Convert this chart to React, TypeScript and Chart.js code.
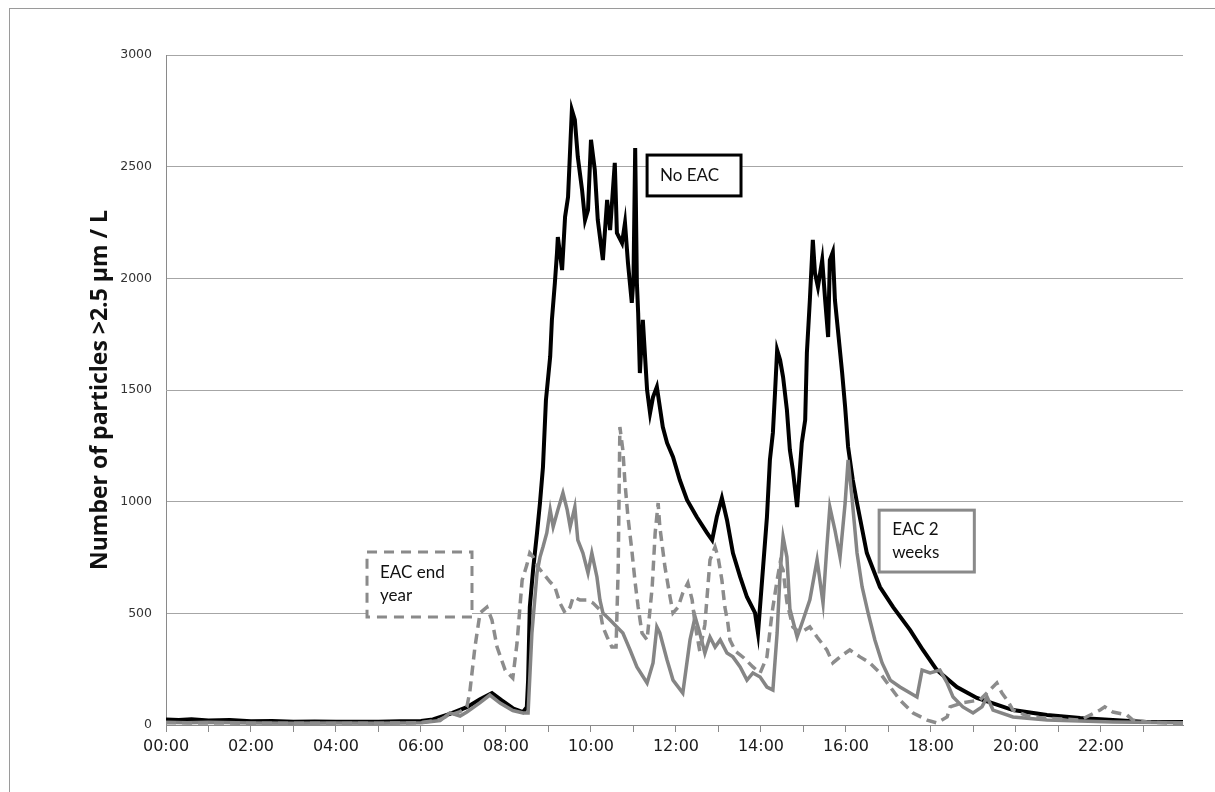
import React, { useEffect, useRef } from "react";
import { Chart, registerables } from "chart.js";

Chart.register(...registerables);

// ---- Data (hours of day, particles > 2.5 µm / L) ----
const noEacHours = [0, 0.3, 0.6, 1.0, 1.5, 2.0, 2.5, 3.0, 3.5, 4.0, 4.5, 5.0, 5.5, 6.0, 6.28, 6.68, 7.08, 7.39, 7.67, 7.9, 8.16, 8.4, 8.49, 8.52, 8.56, 8.64, 8.73, 8.8, 8.87, 8.94, 9.04, 9.08, 9.15, 9.2, 9.22, 9.32, 9.39, 9.46, 9.55, 9.62, 9.69, 9.79, 9.86, 9.93, 10.0, 10.09, 10.16, 10.28, 10.38, 10.45, 10.56, 10.61, 10.73, 10.8, 10.87, 10.96, 11.0, 11.04, 11.08, 11.11, 11.15, 11.22, 11.32, 11.39, 11.46, 11.55, 11.62, 11.69, 11.79, 11.93, 12.09, 12.26, 12.49, 12.73, 12.85, 12.96, 13.08, 13.2, 13.34, 13.51, 13.67, 13.86, 13.93, 14.05, 14.14, 14.21, 14.28, 14.33, 14.38, 14.45, 14.52, 14.61, 14.68, 14.75, 14.85, 14.96, 15.04, 15.08, 15.15, 15.22, 15.27, 15.34, 15.44, 15.51, 15.58, 15.62, 15.69, 15.74, 15.81, 15.91, 15.98, 16.05, 16.16, 16.26, 16.49, 16.8, 17.11, 17.51, 17.81, 18.14, 18.61, 19.08, 19.93, 20.73, 21.51, 22.28, 23.08, 23.93];
const noEacValues = [25, 22, 26, 20, 22, 17, 18, 15, 16, 14, 15, 14, 17, 18, 25, 50, 80, 115, 143, 110, 75, 58, 80, 200, 528, 700, 860, 995, 1155, 1455, 1650, 1813, 1979, 2114, 2185, 2037, 2275, 2364, 2754, 2709, 2543, 2396, 2261, 2306, 2620, 2485, 2261, 2082, 2351, 2216, 2517, 2203, 2158, 2248, 2069, 1890, 2000, 2584, 1979, 1845, 1576, 1814, 1500, 1397, 1469, 1514, 1424, 1334, 1263, 1200, 1097, 1008, 931, 860, 828, 931, 1016, 918, 770, 663, 573, 502, 412, 708, 931, 1187, 1308, 1487, 1679, 1634, 1558, 1411, 1231, 1142, 976, 1263, 1366, 1666, 1903, 2172, 2024, 1961, 2082, 1903, 1737, 2082, 2118, 1903, 1769, 1576, 1424, 1245, 1097, 994, 770, 618, 528, 425, 336, 246, 170, 121, 67, 45, 31, 22, 13, 13];

const twoWeeksHours = [0, 0.5, 1.0, 2.0, 3.0, 4.0, 5.0, 6.0, 6.45, 6.68, 6.92, 7.08, 7.39, 7.62, 7.86, 8.16, 8.4, 8.52, 8.61, 8.73, 8.8, 8.87, 8.96, 9.04, 9.11, 9.22, 9.34, 9.44, 9.51, 9.62, 9.69, 9.81, 9.93, 10.02, 10.14, 10.21, 10.28, 10.45, 10.61, 10.75, 10.92, 11.08, 11.32, 11.46, 11.55, 11.62, 11.79, 11.93, 12.16, 12.33, 12.45, 12.56, 12.68, 12.8, 12.92, 13.04, 13.2, 13.34, 13.51, 13.67, 13.81, 13.98, 14.14, 14.28, 14.38, 14.45, 14.52, 14.61, 14.68, 14.85, 14.99, 15.15, 15.32, 15.46, 15.55, 15.62, 15.74, 15.86, 15.98, 16.05, 16.14, 16.26, 16.38, 16.52, 16.68, 16.85, 17.04, 17.27, 17.51, 17.67, 17.79, 17.98, 18.21, 18.38, 18.52, 18.75, 18.99, 19.2, 19.32, 19.46, 19.93, 20.73, 22.28, 23.93];
const twoWeeksValues = [12, 10, 12, 9, 8, 9, 8, 10, 20, 54, 40, 58, 100, 134, 98, 65, 54, 54, 412, 681, 752, 797, 860, 963, 887, 963, 1039, 963, 887, 976, 828, 770, 681, 770, 663, 560, 502, 470, 439, 412, 336, 260, 188, 278, 439, 412, 291, 201, 143, 381, 484, 412, 322, 394, 349, 381, 322, 305, 260, 201, 233, 215, 170, 157, 412, 681, 842, 752, 520, 394, 470, 560, 739, 546, 797, 976, 873, 752, 994, 1187, 1021, 770, 618, 502, 381, 278, 201, 170, 143, 125, 246, 233, 246, 188, 125, 81, 54, 81, 125, 67, 36, 22, 13, 10];

const endYearHours = [0, 1.0, 2.0, 3.0, 4.0, 5.0, 6.0, 6.45, 6.68, 6.92, 7.08, 7.15, 7.27, 7.39, 7.55, 7.67, 7.79, 7.98, 8.16, 8.26, 8.38, 8.49, 8.56, 8.64, 8.75, 8.87, 9.04, 9.15, 9.27, 9.39, 9.51, 9.58, 9.74, 9.91, 10.05, 10.21, 10.28, 10.38, 10.49, 10.59, 10.64, 10.68, 10.75, 10.8, 10.87, 10.96, 11.04, 11.11, 11.2, 11.32, 11.44, 11.51, 11.58, 11.62, 11.74, 11.86, 11.93, 12.05, 12.16, 12.28, 12.38, 12.45, 12.56, 12.68, 12.8, 12.92, 12.99, 13.08, 13.15, 13.22, 13.27, 13.4, 13.6, 13.81, 13.98, 14.14, 14.26, 14.38, 14.45, 14.52, 14.61, 14.75, 14.92, 15.15, 15.32, 15.55, 15.69, 15.86, 16.09, 16.33, 16.56, 16.8, 17.04, 17.27, 17.58, 17.91, 18.14, 18.38, 18.45, 18.75, 19.15, 19.55, 19.67, 19.79, 19.93, 20.33, 20.73, 21.51, 21.98, 22.09, 22.28, 22.61, 22.75, 23.08, 23.93];
const endYearValues = [10, 9, 8, 8, 7, 8, 10, 25, 45, 60, 81, 150, 350, 502, 528, 470, 349, 246, 210, 367, 649, 716, 770, 752, 708, 680, 640, 618, 546, 502, 528, 573, 560, 560, 546, 515, 439, 394, 349, 349, 700, 1334, 1231, 1084, 931, 784, 636, 528, 412, 381, 618, 860, 994, 887, 708, 573, 502, 528, 591, 636, 560, 450, 330, 450, 739, 797, 752, 649, 528, 457, 381, 330, 300, 260, 233, 305, 502, 649, 725, 694, 550, 439, 412, 439, 394, 336, 278, 305, 336, 305, 278, 233, 170, 112, 54, 22, 9, 36, 81, 100, 112, 188, 143, 112, 67, 36, 31, 22, 67, 81, 58, 45, 22, 13, 5];

const hourTicks = [0, 2, 4, 6, 8, 10, 12, 14, 16, 18, 20, 22];
const yTitle = "Number of particles >2.5 µm / L";

// annotation boxes in data coordinates: [x0, x1, yTop, yBottom]
const boxNoEac = { text: ["No EAC"], x0: 11.32, x1: 13.53, yTop: 2552, yBottom: 2369, color: "#000000", dash: [] as number[] };
const boxTwoWeeks = { text: ["EAC 2", "weeks"], x0: 16.78, x1: 19.02, yTop: 962, yBottom: 685, color: "#8a8a8a", dash: [] as number[] };
const boxEndYear = { text: ["EAC end", "year"], x0: 4.73, x1: 7.2, yTop: 775, yBottom: 484, color: "#8a8a8a", dash: [10, 7] };
const boxes = [boxNoEac, boxTwoWeeks, boxEndYear];

function pairs(hs: number[], vs: number[]) {
  return hs.map((h, i) => ({ x: h, y: vs[i] }));
}

const boxPlugin = {
  id: "boxes",
  afterDatasetsDraw(chart: any) {
    const { ctx, scales } = chart;
    const xs = scales.x;
    const ys = scales.y;
    ctx.save();
    boxes.forEach((b) => {
      const l = xs.getPixelForValue(b.x0);
      const r = xs.getPixelForValue(b.x1);
      const t = ys.getPixelForValue(b.yTop);
      const btm = ys.getPixelForValue(b.yBottom);
      ctx.fillStyle = "#ffffff";
      ctx.fillRect(l, t, r - l, btm - t);
      ctx.strokeStyle = b.color;
      ctx.lineWidth = 3;
      ctx.setLineDash(b.dash);
      ctx.strokeRect(l, t, r - l, btm - t);
      ctx.setLineDash([]);
      ctx.fillStyle = "#111111";
      ctx.font = "17px Lato, 'Open Sans', sans-serif";
      ctx.textBaseline = "middle";
      ctx.textAlign = "left";
      const n = b.text.length;
      const lh = 23;
      const cy = (t + btm) / 2;
      b.text.forEach((s, i) => {
        ctx.fillText(s, l + 13, cy + (i - (n - 1) / 2) * lh);
      });
    });
    ctx.restore();
  },
};

export default function App() {
  const ref = useRef<HTMLCanvasElement>(null);
  useEffect(() => {
    if (!ref.current) return;
    const chart = new Chart(ref.current, {
      type: "line",
      data: {
        datasets: [
          {
            label: "EAC end year",
            data: pairs(endYearHours, endYearValues),
            borderColor: "#8c8c8c",
            borderWidth: 3.5,
            borderDash: [10, 6],
            pointRadius: 0,
            tension: 0,
            order: 1,
          },
          {
            label: "EAC 2 weeks",
            data: pairs(twoWeeksHours, twoWeeksValues),
            borderColor: "#858585",
            borderWidth: 3.5,
            pointRadius: 0,
            tension: 0,
            order: 2,
          },
          {
            label: "No EAC",
            data: pairs(noEacHours, noEacValues),
            borderColor: "#000000",
            borderWidth: 4,
            pointRadius: 0,
            tension: 0,
            order: 3,
          },
        ],
      },
      options: {
        animation: false,
        responsive: false,
        devicePixelRatio: 1,
        events: [],
        layout: { padding: { left: 87, right: 32, top: 55, bottom: 0 } },
        plugins: { legend: { display: false }, tooltip: { enabled: false } },
        scales: {
          x: {
            type: "linear",
            min: 0,
            max: 23.93,
            afterFit: (s: any) => {
              s.height = 67;
            },
            afterBuildTicks: (s: any) => {
              const t = [];
              for (let h = 0; h <= 23; h++) t.push({ value: h });
              s.ticks = t;
            },
            ticks: {
              autoSkip: false,
              maxRotation: 0,
              padding: 5,
              color: "#1a1a1a",
              font: { family: "'DejaVu Sans', sans-serif", size: 16 },
              callback: (v: any) =>
                hourTicks.includes(Number(v)) ? String(v).padStart(2, "0") + ":00" : "",
            },
            grid: { drawOnChartArea: false, drawTicks: true, tickLength: 7, color: "#8a8a8a" },
            border: { color: "#8a8a8a", width: 1 },
          },
          y: {
            min: 0,
            max: 3000,
            afterFit: (s: any) => {
              s.width = 79;
            },
            ticks: {
              stepSize: 500,
              padding: 14,
              color: "#333333",
              font: { family: "'DejaVu Sans', sans-serif", size: 12.5 },
              callback: (v: any) => String(v),
            },
            grid: { color: "#a6a6a6", drawTicks: false, lineWidth: 1 },
            border: { color: "#8a8a8a", width: 1 },
            title: {
              display: true,
              text: yTitle,
              color: "#111111",
              font: { family: "'Open Sans', sans-serif", size: 23, weight: "bold" },
              padding: { top: 0, bottom: 0 },
            },
          },
        },
      },
      plugins: [boxPlugin],
    });
    return () => chart.destroy();
  }, []);

  return (
    <div>
      <div
        style={{
          position: "fixed",
          left: 9,
          top: 8,
          width: 1230,
          height: 820,
          border: "1px solid #9a9a9a",
          background: "#ffffff",
        }}
      />
      <canvas
        ref={ref}
        width={1215}
        height={792}
        style={{ position: "fixed", left: 0, top: 0, width: 1215, height: 792 }}
      />
    </div>
  );
}
